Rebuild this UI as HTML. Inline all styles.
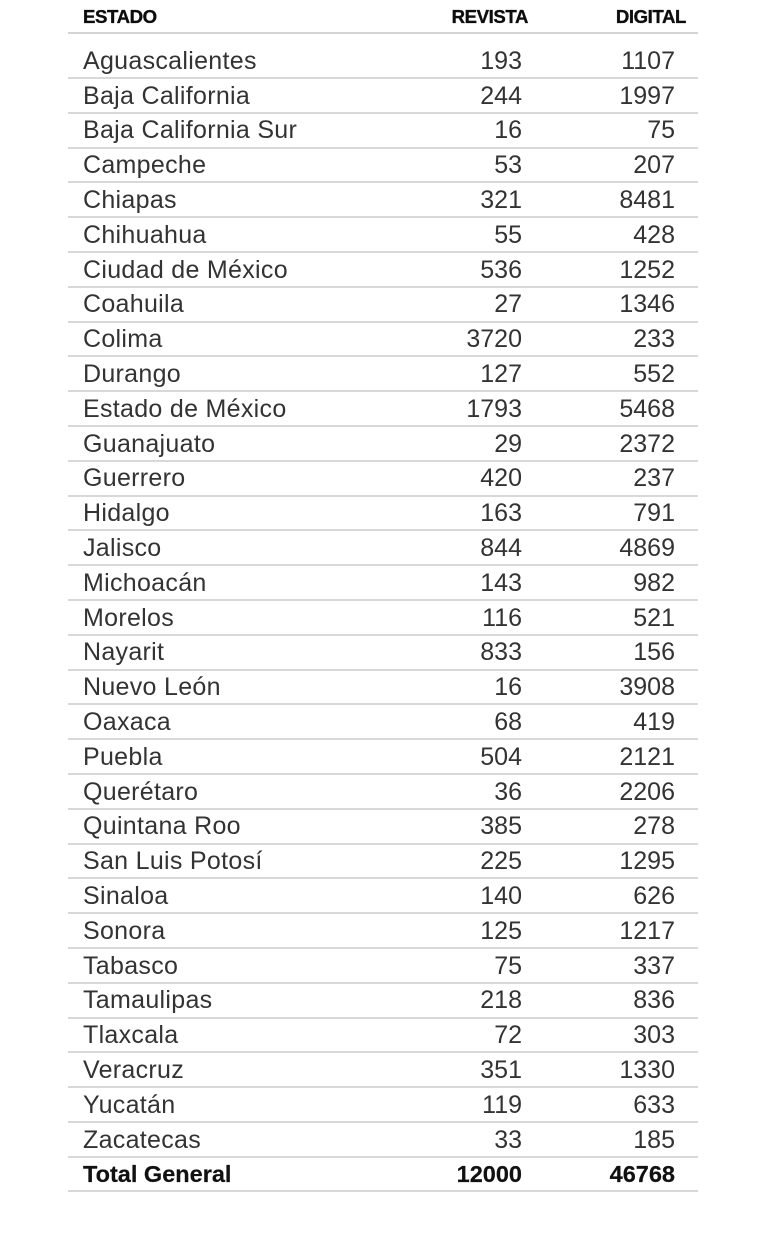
<!DOCTYPE html>
<html>
<head>
<meta charset="utf-8">
<style>
  html, body { margin:0; padding:0; background:#ffffff; }
  body { width:768px; height:1236px; position:relative; overflow:hidden;
         font-family:"Liberation Sans", Arial, sans-serif; }
  .hdr { position:absolute; top:7.4px; left:0; width:768px; height:20px; line-height:20px;
         font-size:18.6px; font-weight:bold; color:#0d0d0d; letter-spacing:-0.4px;
         -webkit-text-stroke:0.35px #0d0d0d; }
  .hdr span { position:absolute; white-space:nowrap; }
  .hline { position:absolute; left:68px; width:630px; height:2px; top:32.3px; background:#d4d4d4; }
  #rows { position:absolute; left:0; top:43.9px; width:768px; }
  .row { position:relative; height:34.8px; line-height:34.8px; font-size:25px; color:#333333; }
  .row span { position:absolute; top:0; white-space:nowrap; }
  .row .n { left:83px; letter-spacing:0.3px; }
  .row .r { right:246px; }
  .row .d { right:93px; }
  .row::after { content:""; position:absolute; left:68px; width:630px; height:2px; top:33.1px; background:#d8d8d8; }
  .row.tot { font-weight:bold; font-size:23.5px; color:#111; -webkit-text-stroke:0.2px #111; }
  .row.tot .n { letter-spacing:0; }
</style>
</head>
<body>
  <div class="hdr">
    <span style="left:83px;">ESTADO</span>
    <span style="right:240px;">REVISTA</span>
    <span style="right:82px;">DIGITAL</span>
  </div>
  <div class="hline"></div>
  <div id="rows">
    <div class="row"><span class="n">Aguascalientes</span><span class="r">193</span><span class="d">1107</span></div>
    <div class="row"><span class="n">Baja California</span><span class="r">244</span><span class="d">1997</span></div>
    <div class="row"><span class="n">Baja California Sur</span><span class="r">16</span><span class="d">75</span></div>
    <div class="row"><span class="n">Campeche</span><span class="r">53</span><span class="d">207</span></div>
    <div class="row"><span class="n">Chiapas</span><span class="r">321</span><span class="d">8481</span></div>
    <div class="row"><span class="n">Chihuahua</span><span class="r">55</span><span class="d">428</span></div>
    <div class="row"><span class="n">Ciudad de México</span><span class="r">536</span><span class="d">1252</span></div>
    <div class="row"><span class="n">Coahuila</span><span class="r">27</span><span class="d">1346</span></div>
    <div class="row"><span class="n">Colima</span><span class="r">3720</span><span class="d">233</span></div>
    <div class="row"><span class="n">Durango</span><span class="r">127</span><span class="d">552</span></div>
    <div class="row"><span class="n">Estado de México</span><span class="r">1793</span><span class="d">5468</span></div>
    <div class="row"><span class="n">Guanajuato</span><span class="r">29</span><span class="d">2372</span></div>
    <div class="row"><span class="n">Guerrero</span><span class="r">420</span><span class="d">237</span></div>
    <div class="row"><span class="n">Hidalgo</span><span class="r">163</span><span class="d">791</span></div>
    <div class="row"><span class="n">Jalisco</span><span class="r">844</span><span class="d">4869</span></div>
    <div class="row"><span class="n">Michoacán</span><span class="r">143</span><span class="d">982</span></div>
    <div class="row"><span class="n">Morelos</span><span class="r">116</span><span class="d">521</span></div>
    <div class="row"><span class="n">Nayarit</span><span class="r">833</span><span class="d">156</span></div>
    <div class="row"><span class="n">Nuevo León</span><span class="r">16</span><span class="d">3908</span></div>
    <div class="row"><span class="n">Oaxaca</span><span class="r">68</span><span class="d">419</span></div>
    <div class="row"><span class="n">Puebla</span><span class="r">504</span><span class="d">2121</span></div>
    <div class="row"><span class="n">Querétaro</span><span class="r">36</span><span class="d">2206</span></div>
    <div class="row"><span class="n">Quintana Roo</span><span class="r">385</span><span class="d">278</span></div>
    <div class="row"><span class="n">San Luis Potosí</span><span class="r">225</span><span class="d">1295</span></div>
    <div class="row"><span class="n">Sinaloa</span><span class="r">140</span><span class="d">626</span></div>
    <div class="row"><span class="n">Sonora</span><span class="r">125</span><span class="d">1217</span></div>
    <div class="row"><span class="n">Tabasco</span><span class="r">75</span><span class="d">337</span></div>
    <div class="row"><span class="n">Tamaulipas</span><span class="r">218</span><span class="d">836</span></div>
    <div class="row"><span class="n">Tlaxcala</span><span class="r">72</span><span class="d">303</span></div>
    <div class="row"><span class="n">Veracruz</span><span class="r">351</span><span class="d">1330</span></div>
    <div class="row"><span class="n">Yucatán</span><span class="r">119</span><span class="d">633</span></div>
    <div class="row"><span class="n">Zacatecas</span><span class="r">33</span><span class="d">185</span></div>
    <div class="row tot"><span class="n">Total General</span><span class="r">12000</span><span class="d">46768</span></div>
  </div>
</body>
</html>
